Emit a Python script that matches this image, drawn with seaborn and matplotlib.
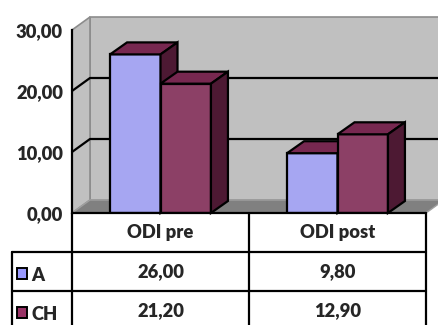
import numpy as np
import pandas as pd
import seaborn as sns
import matplotlib
matplotlib.use("Agg")
import matplotlib.pyplot as plt
from matplotlib.patches import Polygon, Rectangle
from matplotlib import transforms
from matplotlib.lines import Line2D

# ---- data -------------------------------------------------------------
categories = ["ODI pre", "ODI post"]
groups = ["A", "CH"]
values_a = [26.00, 9.80]
values_ch = [21.20, 12.90]
y_ticks = [0, 10, 20, 30]

# ---- styling ----------------------------------------------------------
face_col = {"A": "#9999FF", "CH": "#993366"}
top_col = {"A": "#7777C0", "CH": "#772850"}
side_col = {"A": "#4F4F82", "CH": "#4D1933"}
wall_col = "#C0C0C0"
floor_col = "#808080"

sns.set_style("white")
plt.rcParams["font.family"] = ["Lato", "DejaVu Sans"]
FS = 13.2
FW = "heavy"

W, H = 438, 325
fig = plt.figure(figsize=(W / 100, H / 100), dpi=100)
fig.patch.set_facecolor("white")

# plot box in pixels (left, top, right, bottom)
L, T, R, B = 72, 30, 426, 213
ax = fig.add_axes([L / W, (H - B) / H, (R - L) / W, (B - T) / H])
ax.patch.set_visible(False)

df = pd.DataFrame({
    "cat": categories * 2,
    "grp": [groups[0]] * 2 + [groups[1]] * 2,
    "val": values_a + values_ch,
})
sns.barplot(data=df, x="cat", y="val", hue="grp", palette=face_col,
            width=0.57, gap=0, edgecolor="black", linewidth=1.6,
            legend=False, ax=ax)
ax.set_xlim(-0.5, len(categories) - 0.5)
ax.set_ylim(0, 30)

# pixel -> data scale factors
sx = len(categories) / (R - L)
sy = 30 / (B - T)
wdx, wdy = 18 * sx, 13 * sy      # wall depth
bdx, bdy = 17 * sx, 12 * sy      # bar depth
x0, x1 = -0.5, len(categories) - 0.5

# walls and floor
ax.add_patch(Polygon([(x0 + wdx, wdy), (x1 + wdx + 1, wdy), (x1 + wdx + 1, 30 + wdy),
                      (x0 + wdx, 30 + wdy)], closed=True, facecolor=wall_col,
                     edgecolor="#8C8C8C", linewidth=1.2, zorder=0, clip_on=False))
ax.add_patch(Polygon([(x0, 0), (x0 + wdx, wdy), (x0 + wdx, 30 + wdy), (x0, 30)],
                     closed=True, facecolor=wall_col, edgecolor="#8C8C8C",
                     linewidth=1.2, zorder=0.1, clip_on=False))
ax.add_patch(Polygon([(x0, 0), (x1, 0), (x1 + wdx, wdy), (x0 + wdx, wdy)],
                     closed=True, facecolor=floor_col, edgecolor="#A0A0A0",
                     linewidth=1.0, zorder=0.2, clip_on=False))
for v in y_ticks[1:-1]:
    ax.plot([x0, x0 + wdx, x1 + wdx + 1], [v, v + wdy, v + wdy], color="black",
            linewidth=1.6, zorder=0.5, clip_on=False)

# 3-D caps and sides of each bar, drawn left to right
bars = sorted([p for p in ax.patches if isinstance(p, Rectangle) and p.get_height() > 0],
              key=lambda p: p.get_x())
for i, p in enumerate(bars):
    fc = matplotlib.colors.to_hex(p.get_facecolor())
    key = "A" if fc.lower() == face_col["A"].lower() else "CH"
    bx0, bx1, h = p.get_x(), p.get_x() + p.get_width(), p.get_height()
    z = 3 + i
    p.set_zorder(z)
    ax.add_patch(Polygon([(bx0, h), (bx1, h), (bx1 + bdx, h + bdy), (bx0 + bdx, h + bdy)],
                         closed=True, facecolor=top_col[key], edgecolor="black",
                         linewidth=1.6, zorder=z, clip_on=False))
    ax.add_patch(Polygon([(bx1, 0), (bx1 + bdx, bdy), (bx1 + bdx, h + bdy), (bx1, h)],
                         closed=True, facecolor=side_col[key], edgecolor="black",
                         linewidth=1.6, zorder=z, clip_on=False))

# axis
for s in ["top", "right", "bottom"]:
    ax.spines[s].set_visible(False)
ax.spines["left"].set_linewidth(1.6)
ax.spines["left"].set_color("black")
ax.spines["left"].set_zorder(10)
ax.set_yticks(y_ticks)
ax.set_yticklabels([f"{v:.2f}".replace(".", ",") for v in y_ticks],
                   fontsize=FS, fontweight=FW)
ax.tick_params(axis="y", direction="out", length=5, width=1.6, color="black", pad=1.5)
ax.set_xticks([])
ax.set_xlabel("")
ax.set_ylabel("")

# ---- data table under the plot -------------------------------------------
px = transforms.Affine2D().scale(1 / W, -1 / H).translate(0, 1) + fig.transFigure
col_edges = [L, (L + R) / 2, R]
row_edges = [B, 252, 291, 330]
lw = 1.6
lines = [
    ((L, R), (B, B)),
    ((12, R), (row_edges[1], row_edges[1])),
    ((12, R), (row_edges[2], row_edges[2])),
    ((12, R), (row_edges[3], row_edges[3])),
    ((12, 12), (row_edges[1], row_edges[3])),
]
for xe in col_edges:
    lines.append(((xe, xe), (B, row_edges[3])))
for xs, ys in lines:
    fig.add_artist(Line2D(xs, ys, color="black", linewidth=lw, transform=px))

for j, c in enumerate(categories):
    cx = (col_edges[j] + col_edges[j + 1]) / 2
    fig.text(cx, (row_edges[0] + row_edges[1]) / 2, c, transform=px, ha="center",
             va="center", fontsize=FS, fontweight=FW)
for r, (g, vals) in enumerate(zip(groups, [values_a, values_ch])):
    cy = (row_edges[r + 1] + row_edges[r + 2]) / 2
    fig.add_artist(Rectangle((17, cy - 4), 10, 11, transform=px, facecolor=face_col[g],
                             edgecolor="black", linewidth=1.4))
    fig.text(31, cy + 4, g, transform=px, ha="left", va="center",
             fontsize=FS, fontweight=FW)
    for j, v in enumerate(vals):
        cx = (col_edges[j] + col_edges[j + 1]) / 2
        fig.text(cx, cy, f"{v:.2f}".replace(".", ","), transform=px, ha="center",
                 va="center", fontsize=FS, fontweight=FW)

fig.savefig("out.png", dpi=100)
